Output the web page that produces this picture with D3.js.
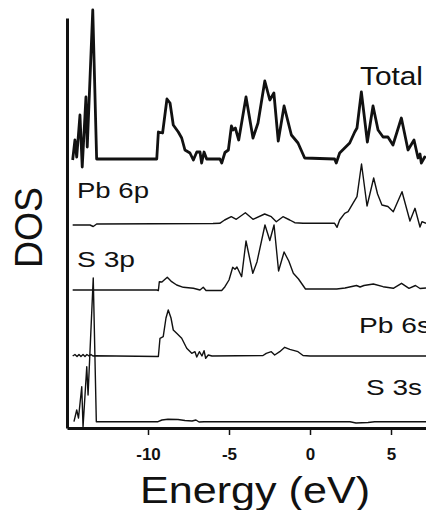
<!DOCTYPE html>
<html>
<head>
<meta charset="utf-8">
<script src="https://cdn.jsdelivr.net/npm/d3@7"></script>
<style>
  html, body { margin: 0; padding: 0; background: #fff; }
  svg { display: block; }
</style>
</head>
<body>
<svg id="chart" width="426" height="510"></svg>
<script>
// Projected densities of states, [energy (eV), DOS] pairs, each drawn on its own offset baseline
const totalDos = [
  [-14.65,0],[-14.51,2.0],[-14.40,0.3],[-14.20,4.5],[-14.06,-0.7],[-13.83,6.3],[-13.75,1.3],[-13.41,15.0],[-13.17,0.1],
  [-9.46,0.1],[-9.36,2.8],[-9.10,2.7],[-8.83,6.1],[-8.64,5.7],[-8.44,3.5],[-8.13,2.8],[-7.92,2.2],[-7.72,1.0],[-7.41,0.7],
  [-7.20,0],[-6.99,0.8],[-6.79,0.8],[-6.69,-0.3],[-6.54,0.8],[-6.38,0.1],
  [-5.56,0.1],[-5.45,-0.3],[-5.25,0.75],[-5.04,1.0],[-4.85,3.4],[-4.75,3.0],[-4.61,3.2],[-4.40,2.0],[-3.95,6.3],[-3.52,2.2],
  [-3.21,3.7],[-2.79,7.9],[-2.48,6.0],[-2.23,6.7],[-1.96,1.9],[-1.60,5.4],[-1.15,2.5],[-0.74,1.7],[-0.33,0.2],
  [1.52,0.1],[1.62,-0.3],[1.83,0.7],[2.14,1.2],[2.45,1.7],[2.76,2.8],[2.90,3.2],[3.17,6.8],[3.54,1.8],[3.89,5.4],[4.20,3.0],
  [4.51,2.3],[4.81,2.3],[5.12,1.5],[5.64,4.2],[6.05,1.0],[6.42,2.0],[6.67,0.2],[6.79,0.6],[6.87,-0.3],[7.08,0.3],[7.16,0.2]
];
const pb6pDos = [
  [-14.65,-0.1],[-13.58,-0.1],[-13.38,-0.25],[-13.17,0],[-5.99,0.05],[-5.57,0.07],[-5.27,0.4],[-4.86,0.73],[-4.55,0.47],
  [-3.99,1.13],[-3.52,0.47],[-2.80,1.0],[-2.39,0.73],[-2.08,0.23],[-1.67,0.73],[-1.25,0.4],[-0.94,0.13],[-0.43,0.07],
  [1.52,0.07],[1.67,-0.33],[1.83,0.4],[2.14,1.07],[2.35,1.23],[2.65,2.07],[2.90,2.73],[3.18,6.0],[3.52,1.8],[3.93,4.6],
  [4.17,3.0],[4.44,1.9],[4.81,1.75],[5.14,1.23],[5.68,3.23],[6.17,0.3],[6.48,1.57],[6.79,-0.3],[6.91,0.23],[7.16,0.07]
];
const s3pDos = [
  [-14.65,0],[-9.46,0],[-9.36,-0.05],[-9.30,0.83],[-9.14,0.8],[-8.81,1.27],[-8.54,0.83],[-8.23,0.5],[-7.82,0.27],
  [-7.20,0.17],[-6.79,0],[-6.59,0.27],[-6.42,-0.05],[-5.45,-0.05],[-5.25,0.33],[-5.0,1.0],[-4.77,2.27],[-4.63,2.07],
  [-4.51,2.3],[-4.22,1.33],[-3.95,4.9],[-3.53,1.67],[-3.27,2.83],[-2.78,6.5],[-2.48,4.95],[-2.22,6.5],[-1.94,1.9],
  [-1.60,3.8],[-1.31,2.9],[-1.03,1.67],[-0.71,1.1],[-0.28,0.1],[1.65,0.1],[2.16,0.2],[2.87,0.45],[3.09,0.3],[3.33,0.45],
  [3.91,0.6],[4.51,0.33],[5.14,0.17],[5.65,0.67],[6.11,0.17],[6.51,0.45],[6.79,0.15],[7.16,0.2]
];
const pb6sDos = [
  [-14.65,0],[-14.51,0.15],[-14.38,-0.05],[-14.26,0.15],[-14.14,-0.05],[-14.01,0.15],[-13.89,-0.05],[-13.77,0.15],
  [-13.64,0],[-13.52,0.15],[-13.40,0],[-13.27,0.03],[-9.36,-0.05],[-9.26,1.77],[-9.06,1.93],[-8.89,3.8],[-8.75,4.6],
  [-8.58,3.8],[-8.44,2.6],[-8.23,2.27],[-7.92,1.77],[-7.61,0.77],[-7.30,0.27],[-7.10,0.43],[-6.99,-0.1],[-6.83,0.43],
  [-6.67,0],[-6.54,0.53],[-6.44,-0.23],[-6.28,0.1],[-6.05,0],[-2.90,0.05],[-2.70,0.27],[-2.39,0.43],[-2.18,0.1],
  [-1.87,0.43],[-1.56,0.87],[-1.25,0.67],[-0.74,0.43],[-0.43,0.05],[0,0],[7.16,0]
];
const s3sDos = [
  [-14.57,0],[-14.40,1.17],[-14.29,0.37],[-14.09,3.5],[-14.01,-0.53],[-13.78,5.5],[-13.70,2.67],[-13.38,14.37],
  [-13.19,0],[-9.38,0],[-9.14,0.17],[-8.77,0.24],[-8.15,0.22],[-7.72,0.12],[-7.28,0.07],[-7.04,0.17],[-6.85,-0.03],
  [-6.54,0],[2.47,0],[2.84,-0.13],[3.58,-0.08],[3.99,0],[7.16,0]
];

const seriesNames = ["Total", "Pb 6p", "S 3p", "Pb 6s", "S 3s"];
const seriesData = [totalDos, pb6pDos, s3pDos, pb6sDos, s3sDos];
const seriesOffsets = [26.8, 20.4, 13.8, 7.2, 0.63];
const energyTicks = [-10, -5, 0, 5];

const svg = d3.select("#chart");
const ink = "#111";

const x = d3.scaleLinear().domain([-15, 7.16]).range([67, 426]);
const y = d3.scaleLinear().domain([0, 41]).range([428, 18]);

// curves
const line = d3.line().x(d => x(d[0])).y(d => y(d[1]));
const widths = [2.8, 1.4, 1.4, 1.4, 1.4];
seriesData.forEach((pts, i) => {
  svg.append("path")
    .datum(pts.map(p => [p[0], p[1] + seriesOffsets[i]]))
    .attr("d", line)
    .attr("fill", "none")
    .attr("stroke", ink)
    .attr("stroke-width", widths[i])
    .attr("stroke-linejoin", "round");
});

// axes
const font = "'Liberation Sans', Arial, sans-serif";
const xAxis = d3.axisBottom(x).tickValues(energyTicks).tickSize(7).tickSizeOuter(0).tickPadding(13)
  .tickFormat(d => d3.format("d")(d).replace("\u2212", "-"));
const gx = svg.append("g").attr("transform", `translate(0,${y(0)})`).call(xAxis);
gx.select(".domain").attr("stroke", ink).attr("stroke-width", 3);
gx.selectAll(".tick line").attr("stroke", ink).attr("stroke-width", 1.5);
gx.selectAll(".tick text").attr("fill", ink)
  .style("font-family", font).style("font-size", "17px").style("font-weight", "bold");

const yAxis = d3.axisLeft(y).tickValues([]).tickSizeOuter(0);
const gy = svg.append("g").attr("transform", `translate(${x(-15)},0)`).call(yAxis);
gy.select(".domain").attr("stroke", ink).attr("stroke-width", 3);

// series labels
const labelPos = [
  { x: 360, y: 85, size: 26, len: 63 },
  { x: 77, y: 198, size: 22, len: 72 },
  { x: 77, y: 267, size: 22, len: 58 },
  { x: 359, y: 333, size: 22, len: 72 },
  { x: 366, y: 395, size: 22, len: 56 }
];
seriesNames.forEach((name, i) => {
  const p = labelPos[i];
  svg.append("text")
    .attr("x", p.x).attr("y", p.y)
    .attr("textLength", p.len).attr("lengthAdjust", "spacingAndGlyphs")
    .style("font-family", font).style("font-size", p.size + "px")
    .attr("fill", ink)
    .text(name);
});

// axis titles
svg.append("text")
  .attr("x", 140).attr("y", 503)
  .attr("textLength", 230).attr("lengthAdjust", "spacingAndGlyphs")
  .style("font-family", font).style("font-size", "37px")
  .attr("fill", ink)
  .text("Energy (eV)");

svg.append("text")
  .attr("transform", "translate(42,227.5) rotate(-90)")
  .attr("text-anchor", "middle")
  .attr("textLength", 81).attr("lengthAdjust", "spacingAndGlyphs")
  .style("font-family", font).style("font-size", "39px")
  .attr("fill", ink)
  .text("DOS");
</script>
</body>
</html>
